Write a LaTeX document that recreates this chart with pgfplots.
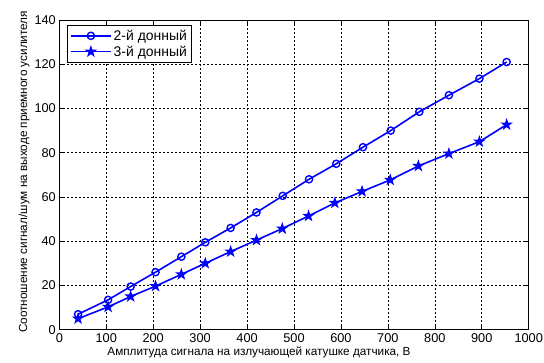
\documentclass[border=0pt]{standalone}
\usepackage{pgfplots}
\pgfplotsset{compat=1.18}
\usepackage{fontspec}
\setmainfont{Liberation Sans}
\usetikzlibrary{calc}
\pgfdeclareplotmark{pentagram}{%
  \pgfpathmoveto{\pgfpointpolar{90}{\pgfplotmarksize}}%
  \pgfpathlineto{\pgfpointpolar{234}{\pgfplotmarksize}}%
  \pgfpathlineto{\pgfpointpolar{18}{\pgfplotmarksize}}%
  \pgfpathlineto{\pgfpointpolar{162}{\pgfplotmarksize}}%
  \pgfpathlineto{\pgfpointpolar{306}{\pgfplotmarksize}}%
  \pgfpathclose
  \pgfusepathqfillstroke
}
\definecolor{mblue}{RGB}{0,0,255}
\begin{document}
\begin{tikzpicture}
\begin{axis}[
  name=ax,
  scale only axis,
  width=469.4bp, height=309.7bp,
  xmin=0, xmax=1000, ymin=0, ymax=140,
  xtick={0,100,...,1000}, ytick={0,20,...,140},
  tick align=inside,
  major tick length=5bp,
  xtick pos=both, ytick pos=both,
  grid=major,
  major grid style={black, line width=0.6bp, dash pattern=on 2bp off 2bp},
  axis line style={black, line width=0.8bp},
  every tick/.style={black, line width=0.6bp},
  /pgf/number format/assume math mode=true,
  ticklabel style={font=\fontsize{12.8}{14}\selectfont},
  scaled ticks=false,
  /pgf/number format/1000 sep={},
  xlabel={Амплитуда сигнала на излучающей катушке датчика, В},
  ylabel={Соотношение сигнал/шум на выходе приемного усилителя},
  label style={font=\fontsize{11.8}{13}\selectfont},
  xlabel style={xshift=-35bp, yshift=2bp},
  ylabel style={yshift=-2bp, xshift=3bp},
  legend style={at={(0,1)}, anchor=north west, xshift=7.4bp, yshift=-5bp,
    draw=black, line width=0.8bp, font=\fontsize{14}{16.5}\selectfont,
    inner xsep=3bp, inner ysep=2.5bp, row sep=0bp},
  legend cell align=left,
  legend image code/.code={%
    \draw[mark repeat=2,mark phase=2,#1] plot coordinates {(0bp,0bp) (20bp,0bp) (40bp,0bp)};},
]
\addplot[mblue, line width=1.6bp, mark=o, mark size=3.6bp, mark options={line width=1.4bp, solid}] table {
40 7
104 13.5
152 19.5
205 26
260 33
311 39.5
365 46
420 53
476 60.5
532 68
590 75
647 82.5
706 90
767 98.5
830 106
895 113.5
953 121
};
\addlegendentry{2-й донный}
\addplot[mblue, line width=1.6bp, mark=pentagram, mark size=5bp, mark options={line width=1bp, solid, fill=mblue}] table {
40 5
104 10.3
152 15
205 19.7
260 25
311 30
365 35.3
420 40.5
475 45.7
531 51.4
587 57.3
645 62.5
705 67.7
765 74
830 79.6
895 85
953 92.7
};
\addlegendentry{3-й донный}
\end{axis}
\pgfresetboundingbox
\path ($(ax.south west)+(-59.3bp,-33.3bp)$) rectangle ($(ax.north east)+(15.3bp,20bp)$);
\end{tikzpicture}
\end{document}
